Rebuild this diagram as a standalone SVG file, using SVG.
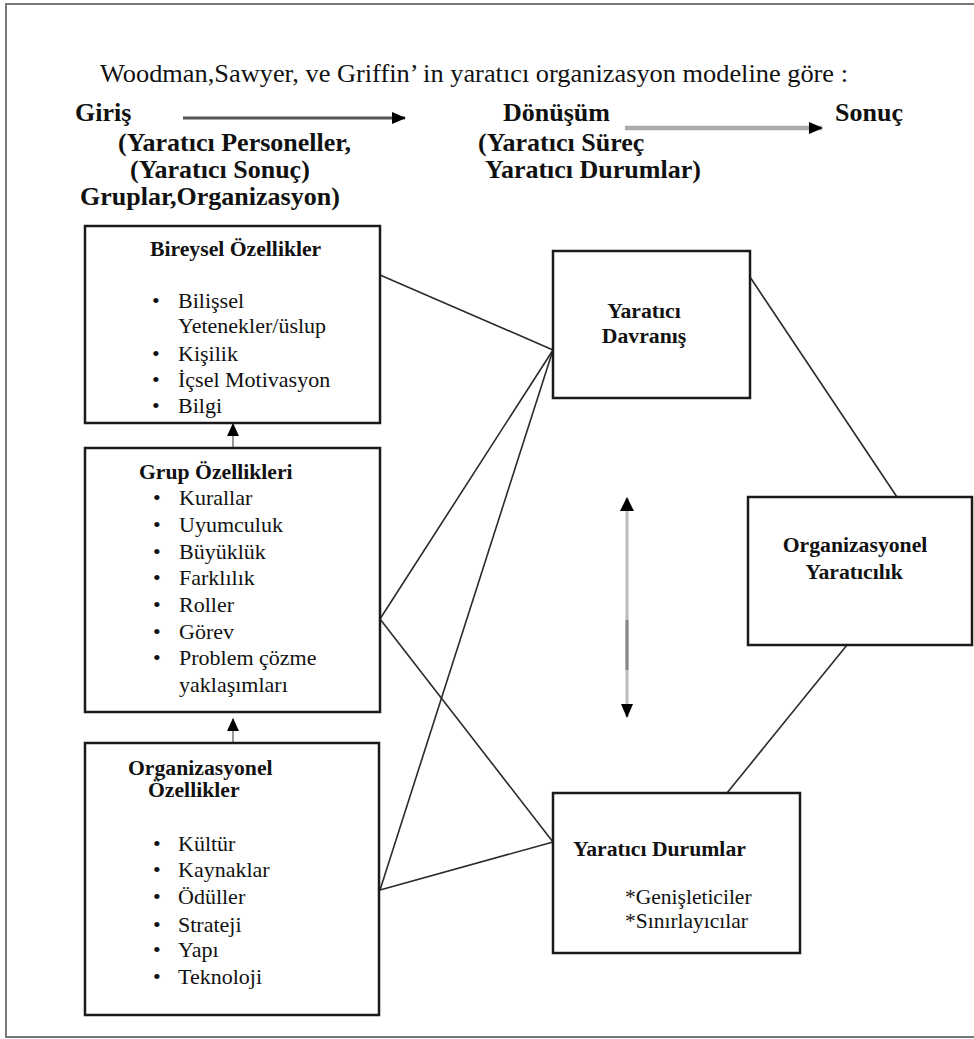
<svg xmlns="http://www.w3.org/2000/svg" width="974" height="1039" viewBox="0 0 974 1039" font-family="'Liberation Serif', 'DejaVu Serif', serif">
  <style>
    text { font-family: 'Liberation Serif', 'DejaVu Serif', serif; fill: #111; }
    .head { font-size: 26px; font-weight: bold; }
    .title { font-size: 26px; }
    .bt { font-size: 21.7px; font-weight: bold; }
    .li { font-size: 22px; }
    .box { fill: #fff; stroke: #1a1a1a; stroke-width: 2.5; }
    .link { stroke: #2a2a2a; stroke-width: 1.6; fill: none; }
    .frame { fill: none; stroke: #777; stroke-width: 2; }
  </style>
  <defs>
    <marker id="tri" markerUnits="userSpaceOnUse" markerWidth="14" markerHeight="14" viewBox="0 0 14 14" refX="13" refY="7" orient="auto">
      <path d="M0,1 L14,7 L0,13 Z" fill="#000"/>
    </marker>
    <marker id="triS" markerUnits="userSpaceOnUse" markerWidth="13" markerHeight="13" viewBox="0 0 12 12" refX="11" refY="6" orient="auto">
      <path d="M0,0.5 L12,6 L0,11.5 Z" fill="#000"/>
    </marker>
    <marker id="triStart" markerUnits="userSpaceOnUse" markerWidth="14" markerHeight="16" viewBox="0 0 14 16" refX="1" refY="8" orient="auto">
      <path d="M14,1 L0,8 L14,15 Z" fill="#000"/>
    </marker>
  </defs>

  <!-- page frame -->
  <rect class="frame" x="6" y="4" width="980" height="1033"/>

  <!-- heading -->
  <text class="title" x="100" y="82" textLength="748" lengthAdjust="spacingAndGlyphs">Woodman,Sawyer, ve Griffin’ in yaratıcı organizasyon modeline göre :</text>

  <!-- input / transformation / output header -->
  <g id="header">
    <text class="head" x="75" y="121">Giriş</text>
    <text class="head" x="118" y="151">(Yaratıcı Personeller,</text>
    <text class="head" x="130" y="178">(Yaratıcı Sonuç)</text>
    <text class="head" x="80" y="205">Gruplar,Organizasyon)</text>
    <text class="head" x="503" y="121">Dönüşüm</text>
    <text class="head" x="478" y="151">(Yaratıcı Süreç</text>
    <text class="head" x="485" y="178">Yaratıcı Durumlar)</text>
    <text class="head" x="835" y="121">Sonuç</text>
    <line x1="183" y1="118" x2="405" y2="118" stroke="#555" stroke-width="3" marker-end="url(#tri)"/>
    <line x1="625" y1="128" x2="822" y2="128" stroke="#aaa" stroke-width="4.5" marker-end="url(#tri)"/>
  </g>

  <!-- connectors -->
  <g id="connectors">
    <line class="link" x1="380" y1="275" x2="553" y2="350"/>
    <line class="link" x1="380" y1="619" x2="553" y2="350"/>
    <line class="link" x1="380" y1="619" x2="553" y2="842"/>
    <line class="link" x1="380" y1="890" x2="553" y2="350"/>
    <line class="link" x1="380" y1="890" x2="553" y2="842"/>
    <line class="link" x1="750" y1="277" x2="897" y2="497"/>
    <line class="link" x1="847" y1="645" x2="727" y2="793"/>
    <!-- upward arrows between the left boxes -->
    <line x1="233" y1="448" x2="233" y2="424" stroke="#999" stroke-width="2" marker-end="url(#triS)"/>
    <line x1="233" y1="743" x2="233" y2="719" stroke="#999" stroke-width="2" marker-end="url(#triS)"/>
    <!-- two-way arrow between behaviour and situations -->
    <line x1="627" y1="498" x2="627" y2="717" stroke="#bbb" stroke-width="3" marker-start="url(#triStart)" marker-end="url(#tri)"/>
    <line x1="627" y1="620" x2="627" y2="670" stroke="#888" stroke-width="3"/>
  </g>

  <!-- individual characteristics -->
  <g id="bireysel">
    <rect class="box" x="85" y="226" width="295" height="197"/>
    <text class="bt" x="150" y="256">Bireysel Özellikler</text>
    <g class="li">
      <text x="152" y="308">•</text><text x="178" y="308">Bilişsel</text>
      <text x="178" y="333">Yetenekler/üslup</text>
      <text x="152" y="361">•</text><text x="178" y="361">Kişilik</text>
      <text x="152" y="387">•</text><text x="178" y="387">İçsel Motivasyon</text>
      <text x="152" y="413">•</text><text x="178" y="413">Bilgi</text>
    </g>
  </g>

  <!-- group characteristics -->
  <g id="grup">
    <rect class="box" x="85" y="448" width="295" height="264"/>
    <text class="bt" x="139" y="479">Grup Özellikleri</text>
    <g class="li">
      <text x="153" y="505">•</text><text x="179" y="505">Kurallar</text>
      <text x="153" y="532">•</text><text x="179" y="532">Uyumculuk</text>
      <text x="153" y="559">•</text><text x="179" y="559">Büyüklük</text>
      <text x="153" y="585">•</text><text x="179" y="585">Farklılık</text>
      <text x="153" y="612">•</text><text x="179" y="612">Roller</text>
      <text x="153" y="639">•</text><text x="179" y="639">Görev</text>
      <text x="153" y="665">•</text><text x="179" y="665">Problem çözme</text>
      <text x="179" y="692">yaklaşımları</text>
    </g>
  </g>

  <!-- organisational characteristics -->
  <g id="organizasyonel">
    <rect class="box" x="85" y="743" width="294" height="272"/>
    <text class="bt" x="128" y="775">Organizasyonel</text>
    <text class="bt" x="148" y="797">Özellikler</text>
    <g class="li">
      <text x="153" y="851">•</text><text x="178" y="851">Kültür</text>
      <text x="153" y="877">•</text><text x="178" y="877">Kaynaklar</text>
      <text x="153" y="904">•</text><text x="178" y="904">Ödüller</text>
      <text x="153" y="932">•</text><text x="178" y="932">Strateji</text>
      <text x="153" y="957">•</text><text x="178" y="957">Yapı</text>
      <text x="153" y="984">•</text><text x="178" y="984">Teknoloji</text>
    </g>
  </g>

  <!-- creative behaviour -->
  <g id="davranis">
    <rect class="box" x="553" y="251" width="197" height="147"/>
    <text class="bt" x="644" y="318" text-anchor="middle">Yaratıcı</text>
    <text class="bt" x="644" y="343" text-anchor="middle">Davranış</text>
  </g>

  <!-- creative situations -->
  <g id="durumlar">
    <rect class="box" x="553" y="793" width="247" height="160"/>
    <text class="bt" x="573" y="856">Yaratıcı Durumlar</text>
    <text x="625" y="904" style="font-size:21.5px">*Genişleticiler</text>
    <text x="625" y="928" style="font-size:21.5px">*Sınırlayıcılar</text>
  </g>

  <!-- organisational creativity -->
  <g id="yaraticilik">
    <rect class="box" x="748" y="497" width="224" height="148"/>
    <text class="bt" x="855" y="552" text-anchor="middle">Organizasyonel</text>
    <text class="bt" x="854" y="579" text-anchor="middle">Yaratıcılık</text>
  </g>
</svg>
